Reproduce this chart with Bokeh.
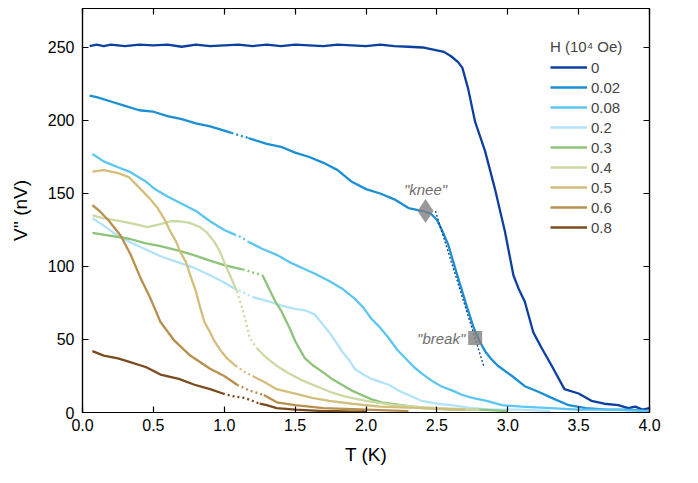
from bokeh.plotting import figure
from bokeh.models import Range1d, LinearAxis, Legend, LegendItem, FixedTicker, Label, NumeralTickFormatter
from bokeh.embed import file_html
from bokeh.resources import INLINE

FONT = "Liberation Sans"

fields = ["0", "0.02", "0.08", "0.2", "0.3", "0.4", "0.5", "0.6", "0.8"]
colors = ["#0b3fa0", "#1a8fd5", "#5cc6f2", "#b2e3f8", "#8dc47a", "#cbdaa3", "#d3be7b", "#b88f4c", "#7b4a1d"]

T_00 = [0.05, 0.1, 0.15, 0.2, 0.3, 0.4, 0.5, 0.6, 0.7, 0.8, 0.9, 1.0, 1.1, 1.2, 1.3, 1.4, 1.5, 1.6, 1.7, 1.8, 1.9, 2.0,
        2.1, 2.2, 2.3, 2.4, 2.5, 2.55, 2.6, 2.65, 2.68, 2.72, 2.77, 2.84, 2.91, 2.98, 3.04, 3.08, 3.12, 3.18, 3.24, 3.31,
        3.40, 3.50, 3.59, 3.68, 3.78, 3.85, 3.9, 3.95, 4.0]
V_00 = [251, 252, 251, 252, 251, 252, 251.5, 252, 250.5, 252, 251, 251.5, 252, 251, 252, 251, 252, 251.5, 251, 252, 251.5,
        251, 252, 251, 250.5, 250, 248, 247, 244, 240, 236, 222, 199, 179, 153, 124, 94, 84, 76, 55, 44, 32, 16, 13, 8, 6,
        5, 3, 4, 2, 3]

T_002 = [0.05, 0.1, 0.2, 0.3, 0.4, 0.5, 0.6, 0.7, 0.8, 0.9, 1.0, 1.05, 1.1, 1.17, 1.2, 1.3, 1.4, 1.5, 1.6, 1.7, 1.8, 1.9,
         2.0, 2.1, 2.2, 2.3, 2.4, 2.46, 2.5, 2.54, 2.58, 2.61, 2.65, 2.71, 2.76, 2.80, 2.84, 2.88, 2.93, 3.03, 3.12, 3.22,
         3.31, 3.43, 3.55, 3.7, 3.85, 4.0]
V_002 = [217, 216, 213, 210, 207, 206, 203, 201, 198, 196, 193, 191.5, 190, 188, 187, 184, 182, 178, 175, 171, 166, 158,
         153, 150, 146, 140, 138, 136, 132, 124, 115, 105, 92, 73, 58, 49, 42, 37, 32, 25, 18, 14, 10, 5, 3, 2, 2, 1]

T_008 = [0.07, 0.15, 0.25, 0.33, 0.45, 0.51, 0.6, 0.7, 0.80, 0.9, 1.0, 1.07, 1.12, 1.17, 1.27, 1.37, 1.46, 1.55, 1.64,
         1.74, 1.83, 1.92, 1.98, 2.04, 2.10, 2.16, 2.22, 2.28, 2.34, 2.39, 2.46, 2.53, 2.61, 2.68, 2.75, 2.85, 2.96, 3.1,
         3.3, 3.5, 3.7, 4.0]
V_008 = [177, 172, 168, 165, 158, 153, 148, 143, 138, 131, 125, 122, 120, 117, 112, 108, 103, 99, 95, 90, 85, 78, 72, 64,
         58, 51, 43, 37, 31, 27, 22, 18, 15, 12, 10, 8, 5, 4, 3, 2, 2, 1]

T_02 = [0.07, 0.15, 0.25, 0.35, 0.44, 0.55, 0.67, 0.79, 0.90, 1.0, 1.07, 1.12, 1.2, 1.28, 1.35, 1.41, 1.5, 1.57, 1.64,
        1.69, 1.74, 1.79, 1.83, 1.88, 1.92, 1.98, 2.04, 2.1, 2.16, 2.23, 2.30, 2.39, 2.5, 2.6, 2.75, 2.9, 3.1, 3.3]
V_02 = [133, 128, 121, 116, 112, 107, 103, 99, 94, 89, 85, 83, 79, 77, 75, 73, 71, 70, 67, 61, 55, 48, 42, 36, 30, 26,
        23, 21, 19, 15, 12, 8, 6, 5, 3, 2, 2, 1]

T_03 = [0.07, 0.2, 0.33, 0.44, 0.55, 0.67, 0.78, 0.90, 1.0, 1.08, 1.13, 1.2, 1.27, 1.30, 1.33, 1.36, 1.40, 1.43, 1.47,
        1.50, 1.54, 1.57, 1.63, 1.69, 1.76, 1.83, 1.90, 1.97, 2.04, 2.11, 2.25, 2.4, 2.6, 2.8, 3.0]
V_03 = [123, 121, 119, 116, 114, 111, 108, 104, 101, 99, 98, 96, 94, 88, 82, 76, 70, 64, 56, 49, 42, 37, 32, 28, 23, 19,
        15, 12, 9, 7, 5, 3, 2, 2, 1]

T_04 = [0.07, 0.15, 0.27, 0.37, 0.46, 0.55, 0.62, 0.67, 0.75, 0.83, 0.88, 0.93, 0.97, 1.0, 1.04, 1.09, 1.14, 1.18, 1.23,
        1.28, 1.37, 1.45, 1.55, 1.65, 1.75, 1.85, 2.0, 2.2, 2.5, 2.8]
V_04 = [135, 133, 131, 129, 127, 129, 131, 131, 130, 127, 123, 117, 110, 103, 94, 83, 67, 51, 44, 39, 32, 27, 22, 18, 14,
        11, 8, 5, 3, 2]

T_05 = [0.07, 0.15, 0.25, 0.33, 0.41, 0.47, 0.53, 0.58, 0.62, 0.66, 0.69, 0.73, 0.76, 0.80, 0.83, 0.86, 0.90, 0.93, 0.97,
        1.02, 1.08, 1.14, 1.2, 1.28, 1.37, 1.5, 1.62, 1.74, 1.9, 2.1, 2.4, 2.7]
V_05 = [165, 166, 164, 161, 153, 147, 140, 132, 124, 117, 110, 103, 94, 83, 72, 62, 55, 49, 43, 37, 32, 28, 25, 21, 16,
        13, 10, 8, 6, 4, 3, 2]

T_06 = [0.07, 0.12, 0.18, 0.27, 0.34, 0.41, 0.48, 0.55, 0.65, 0.76, 0.9, 1.0, 1.09, 1.18, 1.28, 1.37, 1.5, 1.7, 2.0, 2.3]
V_06 = [142, 138, 132, 121, 108, 92, 78, 62, 49, 39, 30, 25, 19, 15, 12, 7, 5, 3, 2, 1]

T_08 = [0.07, 0.15, 0.25, 0.32, 0.45, 0.55, 0.68, 0.79, 0.90, 0.99, 1.07, 1.14, 1.2, 1.25, 1.30, 1.37, 1.5, 1.6, 1.7,
        1.8, 1.9, 2.0]
V_08 = [42, 39, 37, 35, 31, 26, 23, 19, 16, 13, 11, 10, 8, 6, 5, 3, 2, 1.5, 1, 1, 0.5, 0.5]

# temperature interval (start, end) where each trace is shown dotted (sparse data)
gap_start = [None, 1.05, 1.07, 1.07, 1.13, 1.09, 1.08, 1.09, 0.99]
gap_end = [None, 1.17, 1.17, 1.20, 1.27, 1.23, 1.20, 1.28, 1.25]

series_T = [T_00, T_002, T_008, T_02, T_03, T_04, T_05, T_06, T_08]
series_V = [V_00, V_002, V_008, V_02, V_03, V_04, V_05, V_06, V_08]

knee_T, knee_V = [2.42], [138]
break_T, break_V = [2.77], [51]
guide_T, guide_V = [2.49, 2.83], [138, 32]

x_ticks = [0, 0.5, 1.0, 1.5, 2.0, 2.5, 3.0, 3.5, 4.0]
y_ticks = [0, 50, 100, 150, 200, 250]

p = figure(frame_width=567, frame_height=404, x_range=Range1d(0, 4), y_range=Range1d(0, 276.7),
           output_backend="svg", toolbar_location=None,
           min_border_left=82, min_border_right=33, min_border_top=8, min_border_bottom=58)
p.background_fill_color = "white"
p.border_fill_color = "white"
p.grid.grid_line_color = None
p.outline_line_color = "black"
p.outline_line_width = 1.2

items = []
for f, c, T, V, g0, g1 in zip(fields, colors, series_T, series_V, gap_start, gap_end):
    if g0 is None:
        r = p.line(T, V, line_color=c, line_width=2.3)
    else:
        a = [i for i, t in enumerate(T) if t <= g0]
        b = [i for i, t in enumerate(T) if g0 <= t <= g1]
        d = [i for i, t in enumerate(T) if t >= g1]
        r = p.line([T[i] for i in a], [V[i] for i in a], line_color=c, line_width=2.3)
        p.line([T[i] for i in b], [V[i] for i in b], line_color=c, line_width=2.3, line_dash="2 3")
        p.line([T[i] for i in d], [V[i] for i in d], line_color=c, line_width=2.3)
    items.append(LegendItem(label=f, renderers=[r]))

# guide and annotations
p.line(guide_T, guide_V, line_color="#1a3a80", line_width=1.3, line_dash="2 2")
p.scatter(knee_T, knee_V, marker="diamond", size=24, fill_color="#808080", fill_alpha=0.8, line_color=None)
p.scatter(break_T, break_V, marker="square", size=14, fill_color="#808080", fill_alpha=0.8, line_color=None)
p.add_layout(Label(x=knee_T[0], y=knee_V[0] + 9, text='"knee"', text_font=FONT, text_font_style="italic",
                   text_font_size="15px", text_color="#6e6e6e", text_align="center", text_baseline="bottom"))
p.add_layout(Label(x=break_T[0] - 0.07, y=break_V[0], text='"break"', text_font=FONT, text_font_style="italic",
                   text_font_size="15px", text_color="#6e6e6e", text_align="right", text_baseline="middle"))

for ax in p.xaxis:
    ax.ticker = FixedTicker(ticks=x_ticks)
    ax.formatter = NumeralTickFormatter(format="0.0")
    ax.axis_label = "T (K)"
    ax.major_label_standoff = 6
    ax.axis_label_standoff = 10
for ax in p.yaxis:
    ax.ticker = FixedTicker(ticks=y_ticks)
    ax.axis_label = "V'' (nV)"
    ax.major_label_standoff = 8
    ax.axis_label_standoff = 14

top = LinearAxis(ticker=FixedTicker(ticks=x_ticks), major_label_standoff=0)
right = LinearAxis(ticker=FixedTicker(ticks=y_ticks), major_label_standoff=0)
p.add_layout(top, "above")
p.add_layout(right, "right")

for ax in p.xaxis + p.yaxis:
    ax.axis_line_color = "black"
    ax.axis_line_width = 1.2
    ax.major_tick_in = 6
    ax.major_tick_out = 0
    ax.major_tick_line_width = 1.2
    ax.minor_tick_line_color = None
    ax.major_label_text_font = FONT
    ax.major_label_text_font_size = "16px"
    ax.major_label_text_color = "black"
    ax.axis_label_text_font = FONT
    ax.axis_label_text_font_size = "19px"
    ax.axis_label_text_font_style = "normal"
    ax.axis_label_text_color = "black"
for ax in (top, right):
    ax.major_label_text_font_size = "1px"
    ax.major_label_text_color = None

legend = Legend(items=items, location=(468, 175), title="H (10\u2074 Oe)",
                title_text_font=FONT, title_text_font_size="15px", title_text_font_style="normal",
                label_text_font=FONT, label_text_font_size="15px",
                glyph_width=37, glyph_height=20, label_height=20, spacing=0, label_standoff=4,
                padding=4, margin=0, border_line_color=None, background_fill_alpha=0, title_standoff=2)
p.add_layout(legend)

open("out.html", "w").write(file_html(p, INLINE))
